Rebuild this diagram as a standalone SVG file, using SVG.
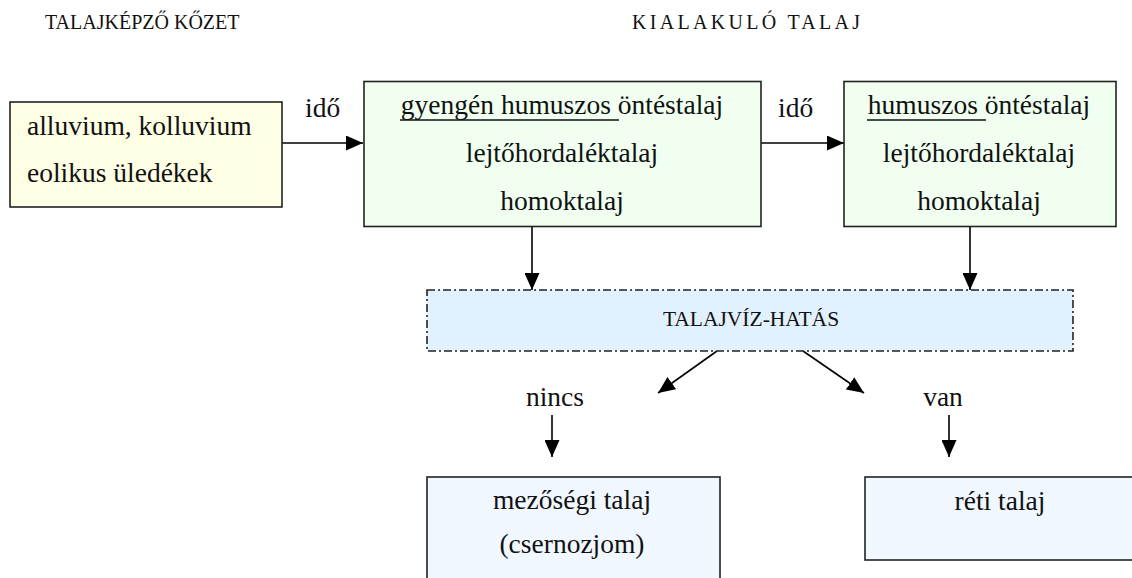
<svg xmlns="http://www.w3.org/2000/svg" width="1132" height="578" viewBox="0 0 1132 578">
<defs>
<marker id="ah" markerWidth="17" markerHeight="15" refX="17" refY="7.5" orient="auto" markerUnits="userSpaceOnUse">
<path d="M0,0 L17,7.5 L0,15 Z" fill="#000"/>
</marker>
<style>
text{font-family:"Liberation Serif","Times New Roman",serif;fill:#111;}
.t{font-size:27.5px;}
.c{text-anchor:middle;}
.h{font-size:20px;}
.box{stroke:#222;stroke-width:1.6;}
.ln{stroke:#000;stroke-width:1.6;fill:none;marker-end:url(#ah);}
.ul{stroke:#111;stroke-width:1.6;}
</style>
</defs>
<rect width="1132" height="578" fill="#fff"/>
<g id="headings">
<text class="h" x="45" y="29">TALAJKÉPZŐ KŐZET</text>
<text class="h" x="632" y="29" letter-spacing="3.3">KIALAKULÓ TALAJ</text>
</g>
<g id="connectors">
<line class="ln" x1="282" y1="143" x2="363" y2="143"/>
<line class="ln" x1="761" y1="143" x2="844" y2="143"/>
<line class="ln" x1="532" y1="227" x2="532" y2="290"/>
<line class="ln" x1="970" y1="227" x2="970" y2="290"/>
<line class="ln" x1="717" y1="351" x2="658" y2="393"/>
<line class="ln" x1="803" y1="351" x2="864" y2="393"/>
<line class="ln" x1="552" y1="415" x2="552" y2="457"/>
<line class="ln" x1="949" y1="415" x2="949" y2="457"/>
<text class="t" x="305" y="117">idő</text>
<text class="t" x="778" y="117">idő</text>
<text class="t c" x="555" y="406">nincs</text>
<text class="t c" x="943" y="406">van</text>
</g>
<g id="node-kozet">
<rect class="box" x="10" y="102" width="272" height="105" fill="#FFFFE6"/>
<text class="t" x="27" y="135">alluvium, kolluvium</text>
<text class="t" x="27" y="182">eolikus üledékek</text>
</g>
<g id="node-talaj1">
<rect class="box" x="364" y="81.5" width="397" height="145" fill="#F0FFF0"/>
<text class="t c" x="562" y="114">gyengén humuszos öntéstalaj</text>
<line class="ul" x1="400" y1="120" x2="619" y2="120"/>
<text class="t c" x="562" y="162">lejtőhordaléktalaj</text>
<text class="t c" x="562" y="210">homoktalaj</text>
</g>
<g id="node-talaj2">
<rect class="box" x="844" y="81.5" width="272" height="145" fill="#F0FFF0"/>
<text class="t c" x="979" y="114">humuszos öntéstalaj</text>
<line class="ul" x1="867" y1="120" x2="986" y2="120"/>
<text class="t c" x="979" y="162">lejtőhordaléktalaj</text>
<text class="t c" x="979" y="210">homoktalaj</text>
</g>
<g id="node-talajviz">
<rect x="427" y="290" width="646" height="61" fill="#E1F1FD" stroke="#222" stroke-width="1.6" stroke-dasharray="8 3 2 3"/>
<text class="c" x="751" y="326" font-size="21.5">TALAJVÍZ-HATÁS</text>
</g>
<g id="node-mezosegi">
<rect class="box" x="427" y="477" width="293" height="120" fill="#F0F7FF"/>
<text class="t c" x="572" y="509">mezőségi talaj</text>
<text class="t c" x="572" y="553">(csernozjom)</text>
</g>
<g id="node-reti">
<rect class="box" x="865" y="477" width="290" height="83" fill="#F0F7FF"/>
<text class="t c" x="1000" y="510">réti talaj</text>
</g>
</svg>
